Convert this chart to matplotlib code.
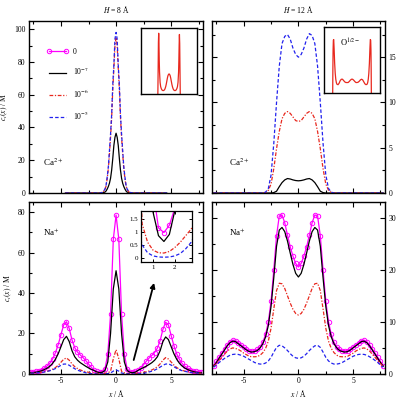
import matplotlib
matplotlib.use("Agg")
import matplotlib.pyplot as plt

# ---- data -------------------------------------------------------------
# Ca2+ profile, H = 8 A
x_ca8 = [-4.6, -3.0, -2.0, -1.5, -1.2, -1.0, -0.9, -0.8, -0.7, -0.6, -0.5,
         -0.4, -0.3, -0.2, -0.1, 0.0, 0.1, 0.2, 0.3, 0.4, 0.5, 0.6, 0.7,
         0.8, 0.9, 1.0, 1.2, 1.5, 2.0, 3.0, 4.6]
ca8_m7 = [0, 0, 0, 0, 0.1, 0.6, 1.3, 2.5, 4, 6, 9, 14, 21, 29, 34, 36.5,
          34, 29, 21, 14, 9, 6, 4, 2.5, 1.3, 0.6, 0.1, 0, 0, 0, 0]
ca8_m6 = [0, 0, 0, 0, 0.4, 2.2, 4.5, 9, 15, 24, 34, 46, 63, 76, 90, 95,
          90, 76, 63, 46, 34, 24, 15, 9, 4.5, 2.2, 0.4, 0, 0, 0, 0]
ca8_m5 = [0, 0, 0, 0, 0.5, 2.5, 5, 10, 16, 26, 36, 48, 66, 78, 94, 98,
          94, 78, 66, 48, 36, 26, 16, 10, 5, 2.5, 0.5, 0, 0, 0, 0]

# common grid for the other three panels
x_grid = [-7.75, -7.5, -7.25, -7.0, -6.75, -6.5, -6.25, -6.0,
          -5.75, -5.5, -5.25, -5.0, -4.75, -4.5, -4.25, -4.0,
          -3.75, -3.5, -3.25, -3.0, -2.75, -2.5, -2.25, -2.0,
          -1.75, -1.5, -1.25, -1.0, -0.75, -0.5, -0.25, 0.0,
          0.25, 0.5, 0.75, 1.0, 1.25, 1.5, 1.75, 2.0,
          2.25, 2.5, 2.75, 3.0, 3.25, 3.5, 3.75, 4.0,
          4.25, 4.5, 4.75, 5.0, 5.25, 5.5, 5.75, 6.0,
          6.25, 6.5, 6.75, 7.0, 7.25, 7.5, 7.75]

# Ca2+ profile, H = 12 A
ca12_m7 = [0, 0, 0, 0, 0, 0, 0, 0,
           0, 0, 0, 0, 0, 0, 0, 0,
           0, 0, 0, 0, 0, 0, 0.05, 0.2,
           0.7, 1.15, 1.45, 1.6, 1.55, 1.45, 1.38, 1.35,
           1.38, 1.45, 1.55, 1.6, 1.45, 1.15, 0.7, 0.2,
           0.05, 0, 0, 0, 0, 0, 0, 0,
           0, 0, 0, 0, 0, 0, 0, 0,
           0, 0, 0, 0, 0, 0, 0]
ca12_m6 = [0, 0, 0, 0, 0, 0, 0, 0,
           0, 0, 0, 0, 0, 0, 0, 0,
           0, 0, 0, 0.05, 0.3, 1.0, 2.7, 4.9,
           6.8, 8.2, 8.8, 9.0, 8.8, 8.4, 8.0, 7.9,
           8.0, 8.4, 8.8, 9.0, 8.8, 8.2, 6.8, 4.9,
           2.7, 1.0, 0.3, 0.05, 0, 0, 0, 0,
           0, 0, 0, 0, 0, 0, 0, 0,
           0, 0, 0, 0, 0, 0, 0]
ca12_m5 = [0, 0, 0, 0, 0, 0, 0, 0,
           0, 0, 0, 0, 0, 0, 0, 0,
           0, 0, 0, 0.1, 0.5, 2.0, 5.5, 10.0,
           14.0, 16.5, 17.3, 17.5, 17.0, 16.0, 15.3, 15.0,
           15.3, 16.0, 17.0, 17.6, 17.4, 16.5, 14.0, 10.0,
           5.5, 2.0, 0.5, 0.1, 0, 0, 0, 0,
           0, 0, 0, 0, 0, 0, 0, 0,
           0, 0, 0, 0, 0, 0, 0]

# Na+ profile, H = 8 A
na8_0 = [1.0, 1.2, 1.4, 1.7, 2.2, 3.0, 4.0, 5.4,
         7.5, 10.5, 14.5, 19.5, 24.3, 25.8, 22.5, 16.8,
         13.0, 10.8, 9.4, 8.1, 6.6, 4.9, 3.3, 2.0,
         1.3, 1.0, 1.2, 2.7, 10.0, 29.5, 66.5, 78.5,
         66.5, 29.5, 10.0, 2.6, 1.15, 0.97, 1.25, 1.9,
         3.0, 4.6, 6.3, 7.9, 9.2, 10.6, 12.8, 16.5,
         22.0, 25.6, 24.2, 19.0, 14.0, 10.0, 7.2, 5.2,
         3.8, 2.9, 2.2, 1.7, 1.4, 1.2, 1.0]
na8_m7 = [0.6, 0.7, 0.9, 1.2, 1.6, 2.2, 2.9, 3.9,
          5.3, 7.3, 10.0, 13.5, 17.0, 18.6, 16.0, 11.5,
          8.5, 6.8, 5.6, 4.7, 3.8, 3.0, 2.3, 1.7,
          1.0, 0.65, 0.85, 1.75, 6.0, 20.0, 42.0, 51.0,
          42.0, 20.0, 6.0, 1.75, 0.85, 0.63, 0.9, 1.8,
          2.5, 3.2, 3.9, 4.7, 5.6, 6.8, 8.5, 11.5,
          16.0, 18.3, 17.0, 13.5, 10.0, 7.3, 5.3, 3.9,
          2.9, 2.2, 1.6, 1.2, 0.9, 0.7, 0.6]
na8_m6 = [0.4, 0.45, 0.55, 0.7, 0.9, 1.1, 1.4, 1.8,
          2.4, 3.2, 4.3, 5.8, 7.3, 7.9, 6.8, 5.0,
          3.6, 2.7, 2.0, 1.5, 1.1, 0.85, 0.6, 0.4,
          0.25, 0.19, 0.2, 0.3, 0.6, 1.3, 7.5, 12.0,
          7.5, 1.3, 0.6, 0.3, 0.2, 0.19, 0.25, 0.4,
          0.6, 0.85, 1.1, 1.5, 2.0, 2.7, 3.6, 5.0,
          6.8, 8.1, 7.4, 5.9, 4.4, 3.2, 2.4, 1.8,
          1.4, 1.1, 0.9, 0.7, 0.55, 0.45, 0.4]
na8_m5 = [0.4, 0.45, 0.55, 0.65, 0.8, 1.0, 1.3, 1.6,
          2.1, 2.7, 3.5, 4.3, 4.9, 4.9, 4.3, 3.4,
          2.6, 1.9, 1.4, 1.0, 0.6, 0.35, 0.17, 0.08,
          0.04, 0.03, 0.04, 0.08, 0.2, 0.5, 1.4, 2.0,
          1.4, 0.5, 0.2, 0.08, 0.04, 0.03, 0.04, 0.08,
          0.17, 0.35, 0.6, 1.0, 1.4, 1.9, 2.6, 3.4,
          4.3, 4.9, 5.0, 4.4, 3.6, 2.8, 2.1, 1.6,
          1.3, 1.0, 0.8, 0.65, 0.55, 0.45, 0.4]

# Na+ profile, H = 12 A
na12_0 = [1.6, 2.4, 3.2, 4.0, 4.8, 5.6, 6.2, 6.5,
          6.4, 6.0, 5.6, 5.2, 4.8, 4.5, 4.4, 4.5,
          4.7, 5.2, 6.1, 7.6, 10.0, 14.0, 20.0, 26.5,
          30.3, 30.5, 29.0, 26.6, 24.4, 22.6, 21.2, 20.5,
          21.2, 22.6, 24.4, 26.6, 29.0, 30.5, 30.3, 26.5,
          20.0, 14.0, 10.0, 7.6, 6.1, 5.2, 4.7, 4.5,
          4.4, 4.5, 4.8, 5.2, 5.6, 6.0, 6.4, 6.5,
          6.2, 5.6, 4.8, 4.0, 3.2, 2.4, 1.6]
na12_m7 = [1.5, 2.2, 3.0, 3.8, 4.6, 5.4, 6.0, 6.3,
           6.2, 5.8, 5.4, 5.0, 4.6, 4.3, 4.2, 4.3,
           4.5, 5.0, 5.8, 7.1, 9.3, 13.0, 18.5, 24.5,
           27.6, 28.1, 27.3, 25.5, 23.2, 21.0, 19.3, 18.6,
           19.3, 21.0, 23.2, 25.5, 27.3, 28.1, 27.6, 24.5,
           18.5, 13.0, 9.3, 7.1, 5.8, 5.0, 4.5, 4.3,
           4.2, 4.3, 4.6, 5.0, 5.4, 5.8, 6.2, 6.3,
           6.0, 5.4, 4.6, 3.8, 3.0, 2.2, 1.5]
na12_m6 = [1.4, 2.0, 2.6, 3.2, 3.8, 4.4, 4.8, 5.0,
           4.9, 4.7, 4.4, 4.0, 3.7, 3.4, 3.3, 3.3,
           3.35, 3.6, 4.1, 4.9, 6.3, 8.8, 12.5, 16.0,
           17.4, 17.3, 16.4, 15.0, 13.6, 12.4, 11.6, 11.3,
           11.6, 12.4, 13.6, 15.0, 16.4, 17.3, 17.4, 16.0,
           12.5, 8.8, 6.3, 4.9, 4.1, 3.6, 3.35, 3.3,
           3.3, 3.4, 3.7, 4.0, 4.4, 4.7, 4.9, 5.0,
           4.8, 4.4, 3.8, 3.2, 2.6, 2.0, 1.4]
na12_m5 = [1.3, 1.7, 2.2, 2.6, 3.0, 3.3, 3.6, 3.75,
           3.8, 3.75, 3.6, 3.4, 3.1, 2.8, 2.5, 2.2,
           2.0, 1.9, 1.9, 2.1, 2.5, 3.2, 4.2, 5.1,
           5.5, 5.4, 5.0, 4.5, 3.9, 3.4, 3.1, 3.0,
           3.1, 3.4, 3.9, 4.5, 5.0, 5.4, 5.5, 5.1,
           4.2, 3.2, 2.5, 2.1, 1.9, 1.9, 2.0, 2.2,
           2.5, 2.8, 3.1, 3.4, 3.6, 3.75, 3.8, 3.75,
           3.6, 3.3, 3.0, 2.6, 2.2, 1.7, 1.3]

# oxygen density in the insets (arbitrary units)
x_o8 = [-2.0, -1.95, -1.9, -1.85, -1.8, -1.75, -1.7, -1.6, -1.5, -1.4, -1.3,
        -1.2, -1.1, -1.0, -0.9, -0.8, -0.7, -0.6, -0.5, -0.4, -0.3, -0.2,
        -0.1, 0.0, 0.1, 0.2, 0.3, 0.4, 0.5, 0.6, 0.7, 0.8, 0.9, 1.0, 1.1,
        1.2, 1.3, 1.4, 1.5, 1.6, 1.7, 1.75, 1.8, 1.85, 1.9, 1.95, 2.0]
o8 = [0.0, 0.4, 0.85, 1.0, 0.82, 0.55, 0.36, 0.19, 0.12, 0.09, 0.07,
      0.06, 0.055, 0.055, 0.06, 0.07, 0.09, 0.12, 0.16, 0.21, 0.26, 0.3,
      0.32, 0.33, 0.32, 0.3, 0.26, 0.21, 0.16, 0.12, 0.09, 0.07, 0.06, 0.055, 0.055,
      0.06, 0.07, 0.09, 0.12, 0.19, 0.36, 0.55, 0.8, 0.98, 0.83, 0.4, 0.0]
x_o12 = [-3.45, -3.42, -3.38, -3.33, -3.27, -3.2, -3.1, -3.0, -2.9, -2.8, -2.7,
         -2.5, -2.3, -2.1, -1.9, -1.7, -1.5, -1.3, -1.1, -0.9, -0.7, -0.5, -0.3, -0.1,
         0.1, 0.3, 0.5, 0.7, 0.9, 1.1, 1.3, 1.5, 1.7, 1.9, 2.1, 2.3, 2.5,
         2.7, 2.8, 2.9, 3.0, 3.1, 3.2, 3.27, 3.33, 3.38, 3.42, 3.45]
o12 = [0.0, 0.35, 0.65, 0.8, 0.81, 0.68, 0.45, 0.3, 0.21, 0.16, 0.135,
       0.127, 0.15, 0.19, 0.21, 0.21, 0.19, 0.17, 0.16, 0.16, 0.16, 0.175, 0.195, 0.21,
       0.21, 0.195, 0.175, 0.16, 0.16, 0.165, 0.18, 0.2, 0.21, 0.2, 0.17, 0.14, 0.127,
       0.135, 0.16, 0.21, 0.3, 0.45, 0.68, 0.81, 0.8, 0.65, 0.35, 0.0]

labels = ["0", "10$^{-7}$", "10$^{-6}$", "10$^{-5}$"]

# ---- styles -------------------------------------------------------------
MAG = dict(color="#ff00ff", lw=0.9, marker="o", ms=3.2, mfc="none", mew=0.7)
BLK = dict(color="black", lw=0.9, ls="-")
RED = dict(color="#e8281e", lw=0.9, ls=(0, (3, 1.3, 1, 1.3)))
BLU = dict(color="#2222ee", lw=0.9, ls=(0, (2.8, 1.7)))

plt.rcParams["font.family"] = ["Liberation Serif", "DejaVu Serif"]
plt.rcParams["mathtext.fontset"] = "stix"
plt.rcParams["axes.unicode_minus"] = False
FS = 5.5


def style_axes(ax, right=False, xlabels=True):
    for s in ax.spines.values():
        s.set_linewidth(1.0)
    ax.tick_params(which="both", direction="in", top=True, right=True,
                   labelsize=FS, width=0.8, pad=2.5)
    ax.tick_params(which="major", length=3.5)
    ax.tick_params(which="minor", length=2)
    if right:
        ax.tick_params(labelleft=False, labelright=True)
    if not xlabels:
        ax.tick_params(labelbottom=False)
    ax.set_xlim(-7.9, 7.9)
    ax.set_xticks([-5, 0, 5])
    ax.set_xticks([-7.5, -2.5, 2.5, 7.5], minor=True)


def main():
    fig = plt.figure(figsize=(4.03, 4.03), dpi=100)
    ax_a = fig.add_axes([0.072, 0.521, 0.432, 0.427])
    ax_b = fig.add_axes([0.526, 0.521, 0.429, 0.427])
    ax_c = fig.add_axes([0.072, 0.072, 0.432, 0.427])
    ax_d = fig.add_axes([0.526, 0.072, 0.429, 0.427])

    # Ca2+, H = 8
    ax_a.plot(x_ca8, ca8_m7, **BLK)
    ax_a.plot(x_ca8, ca8_m6, **RED)
    ax_a.plot(x_ca8, ca8_m5, **BLU)
    style_axes(ax_a, xlabels=False)
    ax_a.set_ylim(0, 105)
    ax_a.set_yticks([0, 20, 40, 60, 80, 100])
    ax_a.set_yticks([10, 30, 50, 70, 90], minor=True)
    ax_a.set_title("$H$ = 8 Å", fontsize=FS, pad=6)
    ax_a.set_ylabel("$c_i(x)$ / M", fontsize=FS, labelpad=3)
    ax_a.text(0.08, 0.155, "Ca$^{2+}$", transform=ax_a.transAxes, fontsize=6.5)

    # Ca2+, H = 12
    ax_b.plot(x_grid, ca12_m7, **BLK)
    ax_b.plot(x_grid, ca12_m6, **RED)
    ax_b.plot(x_grid, ca12_m5, **BLU)
    style_axes(ax_b, right=True, xlabels=False)
    ax_b.set_ylim(0, 19)
    ax_b.set_yticks([0, 5, 10, 15])
    ax_b.set_yticks([2.5, 7.5, 12.5, 17.5], minor=True)
    ax_b.set_title("$H$ = 12 Å", fontsize=FS, pad=6)
    ax_b.text(0.1, 0.155, "Ca$^{2+}$", transform=ax_b.transAxes, fontsize=6.5)

    # Na+, H = 8
    h0, = ax_c.plot(x_grid, na8_0, **MAG)
    h1, = ax_c.plot(x_grid, na8_m7, **BLK)
    h2, = ax_c.plot(x_grid, na8_m6, **RED)
    h3, = ax_c.plot(x_grid, na8_m5, **BLU)
    style_axes(ax_c)
    ax_c.set_ylim(0, 85)
    ax_c.set_yticks([0, 20, 40, 60, 80])
    ax_c.set_yticks([10, 30, 50, 70], minor=True)
    ax_c.set_ylabel("$c_i(x)$ / M", fontsize=FS, labelpad=3)
    ax_c.set_xlabel("$x$ / Å", fontsize=FS, labelpad=2)
    ax_c.text(0.08, 0.8, "Na$^{+}$", transform=ax_c.transAxes, fontsize=6.5)
    ax_c.annotate("", xy=(3.45, 45), xytext=(1.6, 6.9),
                  arrowprops=dict(arrowstyle="-|>", color="black", lw=1.3,
                                  mutation_scale=7, shrinkA=0, shrinkB=0))

    # Na+, H = 12
    ax_d.plot(x_grid, na12_0, **MAG)
    ax_d.plot(x_grid, na12_m7, **BLK)
    ax_d.plot(x_grid, na12_m6, **RED)
    ax_d.plot(x_grid, na12_m5, **BLU)
    style_axes(ax_d, right=True)
    ax_d.set_ylim(0, 33)
    ax_d.set_yticks([0, 10, 20, 30])
    ax_d.set_yticks([5, 15, 25], minor=True)
    ax_d.set_xlabel("$x$ / Å", fontsize=FS, labelpad=2)
    ax_d.text(0.1, 0.8, "Na$^{+}$", transform=ax_d.transAxes, fontsize=6.5)

    # legend in the first panel
    ax_a.legend([h0, h1, h2, h3], labels, loc="upper left",
                bbox_to_anchor=(0.10, 0.845), frameon=False, fontsize=FS,
                handlelength=2.8, labelspacing=1.35, handletextpad=0.7,
                numpoints=2, borderpad=0, borderaxespad=0)

    # oxygen insets
    for box, xo, yo, top in [([0.350, 0.767, 0.139, 0.164], x_o8, o8, 1.09),
                             ([0.804, 0.769, 0.139, 0.164], x_o12, o12, 1.0)]:
        axi = fig.add_axes(box)
        axi.plot(xo, yo, color="#e8281e", lw=0.9)
        axi.set_xlim(-5, 5)
        axi.set_ylim(0, top)
        axi.set_xticks([])
        axi.set_yticks([])
        for s in axi.spines.values():
            s.set_linewidth(1.0)
        if top == 1.0:
            axi.text(0.29, 0.76, "O$^{1/2-}$", transform=axi.transAxes,
                     fontsize=6, va="center")

    # zoom inset for Na+, H = 8
    axz = fig.add_axes([0.350, 0.350, 0.127, 0.127])
    axz.plot(x_grid, na8_0, **MAG)
    axz.plot(x_grid, na8_m7, **BLK)
    axz.plot(x_grid, na8_m6, **RED)
    axz.plot(x_grid, na8_m5, **BLU)
    axz.set_xlim(0.45, 2.8)
    axz.set_ylim(-0.15, 1.8)
    axz.set_xticks([1, 2])
    axz.set_xticklabels(["1", "2"])
    axz.set_yticks([0, 0.5, 1, 1.5])
    axz.set_yticklabels(["0", "0.5", "1", "1.5"])
    axz.tick_params(direction="in", top=True, right=True, labelsize=5,
                    length=2.5, width=0.7, pad=2)
    for s in axz.spines.values():
        s.set_linewidth(0.9)

    fig.savefig("out.png", dpi=100)


if __name__ == "__main__":
    main()
